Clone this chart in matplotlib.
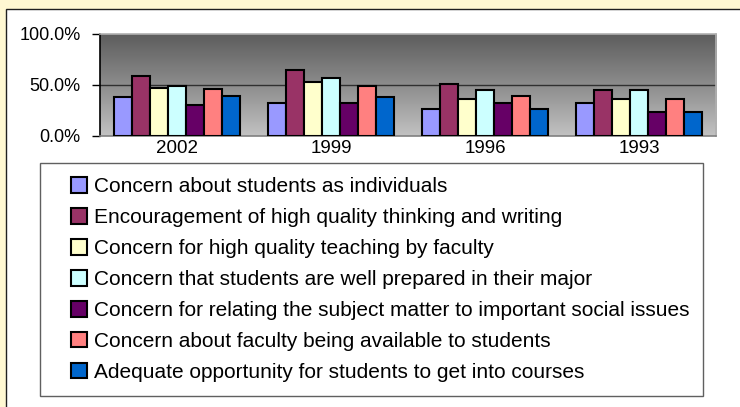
import matplotlib
matplotlib.use("Agg")
import matplotlib.pyplot as plt
import numpy as np
from matplotlib.patches import Rectangle
from matplotlib.ticker import PercentFormatter

years = ["2002", "1999", "1996", "1993"]
series_labels = [
    "Concern about students as individuals",
    "Encouragement of high quality thinking and writing",
    "Concern for high quality teaching by faculty",
    "Concern that students are well prepared in their major",
    "Concern for relating the subject matter to important social issues",
    "Concern about faculty being available to students",
    "Adequate opportunity for students to get into courses",
]
series_colors = ["#9999FF", "#993366", "#FFFFCC", "#CCFFFF", "#660066", "#FF8080", "#0066CC"]

individuals = [38, 32, 26, 32]
thinking_writing = [59, 65, 51, 45]
teaching = [47, 53, 36, 36]
prepared_major = [49, 57, 45, 45]
social_issues = [30, 32, 32, 24]
faculty_available = [46, 49, 39, 36]
get_into_courses = [39, 38, 26, 24]
series_values = [individuals, thinking_writing, teaching, prepared_major,
                 social_issues, faculty_available, get_into_courses]

FONT = "Liberation Sans"
W, H = 740, 407
fig = plt.figure(figsize=(W / 100, H / 100), dpi=100)
fig.patch.set_facecolor("#FFF8D2")

# white chart area, clipped by the right and bottom edges
fig.patches.append(Rectangle((5.5 / W, -0.1), 1.1, 1.1 - 9.5 / H, transform=fig.transFigure,
                             facecolor="white", edgecolor="#202020", linewidth=1.0, zorder=-5))

ax = fig.add_axes([100 / W, 1 - 136 / H, 616 / W, 102 / H])
ax.set_facecolor("none")

# gray gradient plot area
grad = np.linspace(0, 1, 256).reshape(-1, 1)
cmap = matplotlib.colors.LinearSegmentedColormap.from_list("g", ["#5c5c5c", "#8c8c8c", "#c2c2c2"])
ax.imshow(grad, extent=[0, 1, 0, 1], transform=ax.transAxes, cmap=cmap,
          aspect="auto", zorder=0)

n = len(series_values)
x = np.arange(len(years))
group = 0.818
bw = group / n
handles = []
for i, (vals, col) in enumerate(zip(series_values, series_colors)):
    b = ax.bar(x - group / 2 + bw * (i + 0.5), vals, width=bw, color=col,
               edgecolor="black", linewidth=1.5, zorder=3)
    handles.append(b)

ax.set_xlim(-0.5, len(years) - 0.5)
ax.set_ylim(0, 100)
ax.set_yticks([0, 50, 100])
ax.yaxis.set_major_formatter(PercentFormatter(decimals=1))
ax.axhline(50, color="#303030", linewidth=1.0, zorder=1)

ax.set_xticks(x)
ax.set_xticklabels(years, fontfamily=FONT, fontsize=13.5)
ax.tick_params(axis="x", length=0, pad=3)
ax.tick_params(axis="y", length=6, width=1, color="black", pad=8, labelsize=13)
for lab in ax.get_yticklabels():
    lab.set_fontfamily(FONT)

ax.spines["left"].set_color("black")
ax.spines["bottom"].set_color("#808080")
ax.spines["top"].set_color("#b0b0b0")
ax.spines["right"].set_color("#b0b0b0")
for s in ax.spines.values():
    s.set_linewidth(1.2)

# legend frame
fig.patches.append(Rectangle((40 / W, 1 - 396 / H), 663 / W, 233 / H, transform=fig.transFigure,
                             facecolor="white", edgecolor="#606060", linewidth=1.0, zorder=1))
fig.legend(handles, series_labels, loc="upper left",
           bbox_to_anchor=(61 / W, 1 - 167 / H), frameon=False,
           prop={"family": FONT, "size": 15},
           handlelength=0.77, handleheight=0.77, handletextpad=0.3,
           labelspacing=0.57, borderpad=0)

fig.savefig("out.png", dpi=100, facecolor=fig.get_facecolor())
